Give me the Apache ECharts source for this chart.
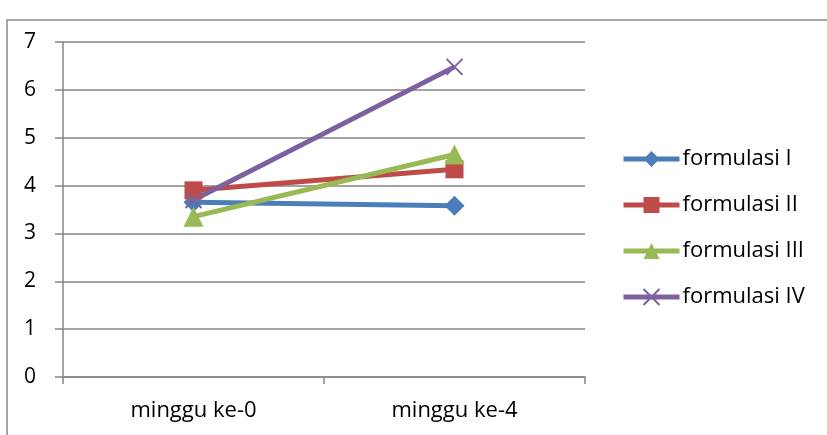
<!DOCTYPE html>
<html>
<head>
<meta charset="utf-8">
<script src="https://cdn.jsdelivr.net/npm/echarts@6/dist/echarts.min.js"></script>
<style>
  html, body { margin: 0; padding: 0; background: #fff; }
  #container { width: 827px; height: 435px; }
</style>
</head>
<body>
<div id="container"></div>
<script>
var categories = ['minggu ke-0', 'minggu ke-4'];
var seriesNames = ['formulasi I', 'formulasi II', 'formulasi III', 'formulasi IV'];
var formulasi1 = [3.65, 3.58];
var formulasi2 = [3.90, 4.34];
var formulasi3 = [3.35, 4.65];
var formulasi4 = [3.70, 6.48];
var yTicks = [0, 1, 2, 3, 4, 5, 6, 7];

(function() {
    var dom = document.getElementById('container');
    var myChart = echarts.init(dom);
    var font = 'Open Sans, Noto Sans, sans-serif';

    function line(name, data, color, symbol, size, extra) {
        var s = {
            name: name,
            type: 'line',
            data: data,
            symbol: symbol,
            symbolSize: size,
            lineStyle: { width: 5, color: color },
            itemStyle: { color: color, borderWidth: 0 },
            emphasis: { disabled: true },
            animation: false
        };
        if (extra) s.itemStyle = extra;
        return s;
    }

    myChart.setOption({
        graphic: [{
            type: 'rect',
            shape: { x: 7, y: 20, width: 900, height: 500 },
            style: { fill: 'none', stroke: '#8a8a8a', lineWidth: 1.5 },
            silent: true
        }],
        grid: { left: 63, right: 242, top: 42, bottom: 58 },
        legend: {
            orient: 'vertical',
            left: 616,
            top: 143,
            itemWidth: 56,
            itemHeight: 20,
            itemGap: 24,
            lineStyle: { width: 5 },
            textStyle: { fontFamily: font, fontSize: 22, lineHeight: 20, color: '#000', padding: [0, 0, 0, -2] },
            data: seriesNames
        },
        xAxis: {
            type: 'category',
            data: categories,
            boundaryGap: true,
            axisLine: { lineStyle: { color: '#868686', width: 1.5 } },
            axisTick: { show: true, length: 7, lineStyle: { color: '#868686', width: 1.5 } },
            axisLabel: { fontFamily: font, fontSize: 22, color: '#000', margin: 23 }
        },
        yAxis: {
            type: 'value',
            min: yTicks[0],
            max: yTicks[yTicks.length - 1],
            interval: 1,
            axisLine: { show: true, lineStyle: { color: '#868686', width: 1.5 } },
            axisTick: { show: true, length: 8, lineStyle: { color: '#868686', width: 1.5 } },
            splitLine: { show: true, lineStyle: { color: '#868686', width: 1.5 } },
            axisLabel: { fontFamily: font, fontSize: 21, color: '#000', margin: 27 }
        },
        series: [
            line(seriesNames[0], formulasi1, '#4a7ebb', 'diamond', 20),
            line(seriesNames[1], formulasi2, '#be4b48', 'rect', 18),
            line(seriesNames[2], formulasi3, '#98b954', 'triangle', 20),
            line(seriesNames[3], formulasi4, '#7d60a0', 'path://M0,0 L10,10 M10,0 L0,10', 16,
                { color: '#7d60a0', borderColor: '#7d60a0', borderWidth: 2 })
        ]
    });
}).call(this);
</script>
</body>
</html>
